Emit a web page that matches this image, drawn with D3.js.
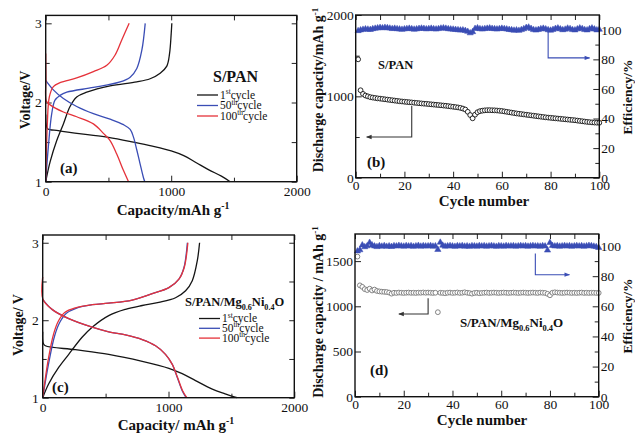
<!DOCTYPE html>
<html>
<head>
<meta charset="utf-8">
<script src="https://cdn.jsdelivr.net/npm/d3@7"></script>
<style>
  body { margin: 0; background: #fff; }
  svg text { font-family: "Liberation Serif", "Times New Roman", Times, serif; }
</style>
</head>
<body>
<div id="chart"></div>
<script>
// ---- panel (a): S/PAN voltage profiles [capacity, voltage]
const a1Dis = [[0,1.85],[4,1.72],[15,1.67],[100,1.645],[300,1.6],[500,1.56],[700,1.5],[850,1.45],[1000,1.39],[1100,1.33],[1200,1.24],[1300,1.15],[1400,1.07],[1470,1.0]];
const a1Chg = [[0,1.0],[35,1.25],[88,1.52],[141,1.73],[194,1.95],[247,2.07],[327,2.13],[513,2.21],[726,2.26],[832,2.3],[912,2.37],[965,2.46],[987,2.62],[1000,2.87],[1005,3.0]];
const a50Dis = [[0,2.28],[61,2.16],[141,2.05],[247,1.95],[380,1.86],[513,1.79],[620,1.72],[673,1.66],[700,1.56],[726,1.4],[753,1.22],[779,1.05],[790,1.0]];
const a50Chg = [[0,1.0],[21,1.44],[48,1.86],[74,2.03],[114,2.09],[168,2.13],[380,2.19],[593,2.26],[673,2.32],[726,2.43],[766,2.66],[793,3.0]];
const a100Dis = [[0,2.62],[2,2.3],[5,2.02],[35,1.97],[141,1.88],[247,1.82],[380,1.73],[460,1.61],[513,1.52],[566,1.35],[620,1.14],[660,1.0]];
const a100Chg = [[0,1.0],[13,1.73],[29,2.07],[61,2.2],[114,2.25],[247,2.31],[380,2.39],[487,2.47],[553,2.6],[606,2.79],[665,3.0]];

// ---- panel (c): S/PAN/Mg0.6Ni0.4O voltage profiles
const c1Dis = [[0,1.85],[5,1.7],[21,1.67],[260,1.62],[525,1.56],[791,1.47],[1003,1.38],[1109,1.31],[1215,1.22],[1348,1.11],[1450,1.05],[1545,1.0]];
const c1Chg = [[0,1.0],[48,1.18],[127,1.39],[207,1.56],[313,1.78],[393,1.91],[525,2.06],[658,2.14],[791,2.19],[923,2.23],[1056,2.29],[1136,2.38],[1189,2.51],[1229,2.77],[1247,3.0]];
const c50Dis = [[0,2.27],[74,2.14],[207,2.02],[393,1.91],[525,1.85],[658,1.81],[791,1.75],[897,1.67],[976,1.56],[1030,1.43],[1070,1.26],[1109,1.09],[1140,1.0]];
const c50Chg = [[0,1.0],[48,1.45],[95,1.8],[135,1.97],[188,2.09],[260,2.15],[393,2.2],[525,2.22],[711,2.26],[865,2.34],[1003,2.42],[1083,2.53],[1123,2.68],[1150,3.0]];
const c100Dis = [[0,2.56],[2,2.27],[74,2.14],[207,2.02],[393,1.91],[525,1.85],[658,1.81],[791,1.75],[897,1.67],[976,1.56],[1030,1.43],[1072,1.26],[1112,1.09],[1146,1.0]];
const c100Chg = [[0,1.0],[45,1.5],[88,1.83],[125,1.99],[175,2.1],[260,2.16],[393,2.2],[525,2.22],[711,2.26],[865,2.34],[1003,2.42],[1083,2.53],[1125,2.68],[1154,3.0]];

// ---- panel (b): S/PAN cycling (cycles 1..100)
const bCap = [1455,1075,1030,1010,1000,990,985,980,975,972,
  968,964,960,956,952,948,944,940,937,934,
  931,928,925,922,919,916,913,910,908,905,
  902,899,896,893,890,887,884,880,876,872,
  868,864,858,850,838,810,770,730,775,805,
  818,824,828,830,830,829,828,826,823,820,
  815,810,805,800,795,790,786,782,778,774,
  770,766,762,758,754,750,746,742,739,736,
  733,730,727,724,721,718,715,712,709,706,
  702,698,694,690,686,683,680,678,676,675];
const bEff = [99.3,99.8,100.2,100.5,100.3,100.1,100.6,100.9,101.2,101.4,
  101.2,101.5,101.3,101.0,100.7,100.9,100.6,100.4,100.2,100.5,
  100.7,100.9,100.6,100.3,100.5,100.8,101.0,100.8,100.5,100.7,
  100.9,100.6,100.4,100.7,101.0,101.2,100.9,100.6,100.4,100.3,
  100.1,99.9,99.7,99.8,99.4,98.8,97.8,98.6,100.8,101.2,
  100.6,100.4,100.7,100.9,101.1,100.8,100.6,100.4,100.7,100.9,
  100.7,100.4,100.1,99.9,99.6,99.8,99.5,100.0,100.6,101.4,
  101.7,100.8,100.0,99.7,100.1,100.6,100.9,100.5,99.9,99.6,
  100.1,100.8,101.1,100.5,99.9,100.3,101.0,100.7,100.0,99.8,
  100.5,101.1,100.7,100.0,99.8,100.6,101.1,100.4,99.8,100.2];

// ---- panel (d): S/PAN/Mg0.6Ni0.4O cycling
const dCap = [1550,1232,1215,1190,1180,1195,1175,1185,1170,1165,
  1162,1160,1158,1152,1140,1150,1148,1152,1150,1148,
  1150,1152,1149,1150,1148,1151,1150,1153,1150,1152,
  1150,1148,1150,935,1150,1148,1145,1150,1152,1148,
  1150,1153,1148,1150,1155,1150,1146,1140,1148,1150,
  1145,1148,1150,1152,1148,1150,1152,1150,1148,1150,
  1152,1150,1148,1150,1152,1150,1148,1150,1152,1150,
  1148,1150,1152,1150,1148,1152,1150,1148,1138,1122,
  1150,1155,1152,1150,1148,1150,1152,1150,1148,1150,
  1148,1150,1152,1148,1150,1148,1150,1150,1148,1148];
const dEff = [96.6,97.4,100.6,99.4,100.0,102.3,100.6,99.9,99.5,100.1,
  99.8,100.2,99.7,100.0,99.6,100.1,99.9,100.3,100.0,99.8,
  100.2,99.9,100.1,99.7,100.0,100.3,99.8,100.1,99.9,100.0,
  100.2,99.8,100.0,97.6,102.4,100.4,99.8,100.0,100.2,99.9,
  99.7,100.1,99.9,100.2,99.8,100.0,99.7,100.1,100.0,99.8,
  100.2,99.9,100.1,99.8,100.0,100.2,99.9,99.7,100.1,100.0,
  99.8,100.2,99.9,100.0,100.1,99.8,100.0,100.2,99.9,100.1,
  99.8,100.0,100.2,99.9,100.0,99.8,100.1,99.9,97.2,102.2,
  100.3,99.9,100.1,99.8,100.0,100.2,99.9,100.1,99.8,100.0,
  100.2,99.9,100.1,99.8,100.0,100.3,100.1,99.8,99.5,98.9];

// tick values
const capTicks = [0, 1000, 2000], capMinor = [500, 1500];
const voltTicks = [1, 2, 3], voltMinor = [1.5, 2.5];
const cycleTicks = [0, 20, 40, 60, 80, 100], cycleMinor = [10, 30, 50, 70, 90];
const effTicks = [0, 20, 40, 60, 80, 100], effMinor = [10, 30, 50, 70, 90];

// arrows [x, y] in data units
const bEffArrow = [[79, 98.5], [79, 81], [96, 81]];
const bCapArrow = [[23, 880], [23, 500], [4.5, 500]];
const dEffArrow = [[74, 95], [74, 81], [88, 81]];
const dCapArrow = [[30, 1090], [30, 915], [18, 915]];

const cycles = d3.range(1, 101);
const legendNames = [["1", "st"], ["50", "th"], ["100", "th"]];

const FONT = "Liberation Serif, Times New Roman, serif";
const BLACK = "#151515", BLUE = "#3a4db5", RED = "#e5323a";

const svg = d3.select("#chart").append("svg")
  .attr("width", 635).attr("height", 435);

const defs = svg.append("defs");
[["arrBlue", BLUE], ["arrDark", "#333"]].forEach(([id, c]) => {
  defs.append("marker").attr("id", id)
    .attr("viewBox", "0 0 10 10").attr("refX", 9).attr("refY", 5)
    .attr("markerWidth", 6).attr("markerHeight", 5).attr("orient", "auto")
    .append("path").attr("d", "M0,1L10,5L0,9z").attr("fill", c);
});

function ticks(g, scale, orient, pos, values, size, labels, pad) {
  const make = { bottom: d3.axisBottom, top: d3.axisTop, left: d3.axisLeft, right: d3.axisRight }[orient];
  const ax = make(scale).tickValues(values).tickSizeInner(-size).tickSizeOuter(0).tickPadding(pad || 3)
    .tickFormat(labels ? d3.format("") : "");
  const tr = (orient === "bottom" || orient === "top") ? `translate(0,${pos})` : `translate(${pos},0)`;
  const gg = g.append("g").attr("transform", tr).call(ax)
    .attr("font-family", FONT).attr("font-size", 13.5);
  gg.select(".domain").remove();
  gg.selectAll("line").attr("stroke", "#222").attr("stroke-width", 1);
  gg.selectAll("text").attr("fill", "#111");
}

function frame(x, y) {
  const [x0, x1] = x.range(), [y0, y1] = y.range();
  svg.append("rect").attr("x", x0).attr("y", y1)
    .attr("width", x1 - x0).attr("height", y0 - y1)
    .attr("fill", "none").attr("stroke", "#111").attr("stroke-width", 1.4);
}

function supText(g, x, y, parts, opts) {
  // parts: [text, shift] ; shift -1 super, +1 sub, 0 normal
  const t = g.append("text").attr("x", x).attr("y", y)
    .attr("font-size", opts.size).attr("font-weight", opts.bold ? "bold" : "normal")
    .attr("text-anchor", opts.anchor || "start").attr("fill", "#111");
  if (opts.rotate) t.attr("transform", `rotate(-90,${x},${y})`);
  let cur = 0;
  parts.forEach(([s, shift]) => {
    const off = shift * opts.size * (shift < 0 ? 0.38 : 0.28);
    t.append("tspan").attr("dy", off - cur)
      .attr("font-size", shift ? opts.size * 0.65 : opts.size).text(s);
    cur = off;
  });
  return t;
}

function voltagePanel(x, y, curves, legend) {
  const g = svg.append("g");
  const [x0, x1] = x.range(), [y0, y1] = y.range();
  ticks(g, x, "bottom", y0, capTicks, 6, true, 5);
  ticks(g, x, "bottom", y0, capMinor, 4, false);
  ticks(g, x, "top", y1, capTicks.concat(capMinor), 5, false);
  ticks(g, y, "left", x0, voltTicks, 6, true, 4);
  ticks(g, y, "left", x0, voltMinor, 4, false);
  ticks(g, y, "right", x1, voltTicks.concat(voltMinor), 5, false);

  const line = d3.line().x(d => x(d[0])).y(d => y(d[1]))
    .curve(d3.curveCatmullRom.alpha(0.5));
  curves.forEach(c => {
    g.append("path").attr("d", line(c.data)).attr("fill", "none")
      .attr("stroke", c.color).attr("stroke-width", 1.3);
  });
  frame(x, y);

  // legend
  const lg = svg.append("g");
  [BLACK, BLUE, RED].forEach((col, i) => {
    const ly = legend.y + i * legend.dy;
    lg.append("line").attr("x1", legend.x).attr("x2", legend.x + 21)
      .attr("y1", ly).attr("y2", ly).attr("stroke", col).attr("stroke-width", 1.3);
    supText(lg, legend.x + 23, ly + 3.5,
      [[legendNames[i][0], 0], [legendNames[i][1], -1], ["cycle", 0]], { size: 11.5 });
  });
}

function cyclePanel(x, y, e, cap, eff, circleStroke, arrows) {
  const g = svg.append("g");
  const [x0, x1] = x.range(), [y0, y1] = y.range();
  ticks(g, x, "bottom", y0, cycleTicks, 6, true, 3);
  ticks(g, x, "bottom", y0, cycleMinor, 4, false);
  ticks(g, x, "top", y1, cycleTicks.concat(cycleMinor), 5, false);
  ticks(g, y, "left", x0, y.tickVals, 6, true, 2);
  ticks(g, y, "left", x0, y.minorVals, 4, false);
  ticks(g, e, "right", x1, effTicks, 6, true, 2);
  ticks(g, e, "right", x1, effMinor, 4, false);

  g.append("g").selectAll("path").data(eff).join("path")
    .attr("transform", (d, i) => `translate(${x(cycles[i])},${e(d)})`)
    .attr("d", d3.symbol(d3.symbolTriangle, 17))
    .attr("fill", BLUE).attr("stroke", BLUE).attr("stroke-width", 0.5);

  g.append("g").selectAll("circle").data(cap).join("circle")
    .attr("cx", (d, i) => x(cycles[i])).attr("cy", d => y(d)).attr("r", 2.4)
    .attr("fill", "#fff").attr("stroke", circleStroke).attr("stroke-width", 0.9);

  arrows.forEach(a => {
    const sc = a.scale;
    g.append("path")
      .attr("d", d3.line().x(d => x(d[0])).y(d => sc(d[1]))(a.pts))
      .attr("fill", "none").attr("stroke", a.color).attr("stroke-width", 1.1)
      .attr("marker-end", `url(#${a.marker})`);
  });
  frame(x, y);
}

// ---------- scales ----------
const xA = d3.scaleLinear().domain([0, 2000]).range([45.7, 296.7]);
const yA = d3.scaleLinear().domain([1, 3.1]).range([181.7, 15.4]);
const xC = d3.scaleLinear().domain([0, 2000]).range([42.7, 294.3]);
const yC = d3.scaleLinear().domain([1, 3.1]).range([397.7, 235]);

const xB = d3.scaleLinear().domain([0, 100]).range([355.7, 599.3]);
const yB = d3.scaleLinear().domain([0, 2000]).range([177.7, 15]);
yB.tickVals = [0, 1000, 2000]; yB.minorVals = [500, 1500];
const eB = d3.scaleLinear().domain([0, 110]).range([177.7, 15]);

const xD = d3.scaleLinear().domain([0, 100]).range([355, 598.7]);
const yD = d3.scaleLinear().domain([0, 1800]).range([396.7, 234]);
yD.tickVals = [0, 500, 1000, 1500]; yD.minorVals = [];
const eD = d3.scaleLinear().domain([0, 108]).range([396.7, 234]);

// ---------- panels ----------
voltagePanel(xA, yA, [
  { data: a1Dis, color: BLACK }, { data: a1Chg, color: BLACK },
  { data: a50Dis, color: BLUE }, { data: a50Chg, color: BLUE },
  { data: a100Dis, color: RED }, { data: a100Chg, color: RED }
], { x: 197, y: 95, dy: 10.5 });

voltagePanel(xC, yC, [
  { data: c1Dis, color: BLACK }, { data: c1Chg, color: BLACK },
  { data: c50Dis, color: BLUE }, { data: c50Chg, color: BLUE },
  { data: c100Dis, color: RED }, { data: c100Chg, color: RED }
], { x: 199, y: 318.5, dy: 9.8 });

cyclePanel(xB, yB, eB, bCap, bEff, "#111", [
  { pts: bEffArrow, scale: eB, color: BLUE, marker: "arrBlue" },
  { pts: bCapArrow, scale: yB, color: "#333", marker: "arrDark" }
]);
cyclePanel(xD, yD, eD, dCap, dEff, "#777", [
  { pts: dEffArrow, scale: eD, color: BLUE, marker: "arrBlue" },
  { pts: dCapArrow, scale: yD, color: "#333", marker: "arrDark" }
]);

// ---------- texts ----------
const T = svg.append("g");
const mgParts = [["S/PAN/Mg", 0], ["0.6", 1], ["Ni", 0], ["0.4", 1], ["O", 0]];

supText(T, 213, 82, [["S/PAN", 0]], { size: 16, bold: true });
supText(T, 185, 306, mgParts, { size: 12.5, bold: true });
supText(T, 378, 69, [["S/PAN", 0]], { size: 12.5, bold: true });
supText(T, 460, 327, mgParts, { size: 13, bold: true });

supText(T, 60, 173, [["(a)", 0]], { size: 15, bold: true });
supText(T, 367, 167, [["(b)", 0]], { size: 15, bold: true });
supText(T, 52, 392, [["(c)", 0]], { size: 15, bold: true });
supText(T, 370, 375, [["(d)", 0]], { size: 15, bold: true });

// axis titles
supText(T, 173, 215, [["Capacity/mAh g", 0], ["-1", -1]], { size: 15, bold: true, anchor: "middle" });
supText(T, 176, 430, [["Capacity/ mAh g", 0], ["-1", -1]], { size: 15, bold: true, anchor: "middle" });
supText(T, 484, 206, [["Cycle number", 0]], { size: 15, bold: true, anchor: "middle" });
supText(T, 482, 425, [["Cycle number", 0]], { size: 15, bold: true, anchor: "middle" });

supText(T, 30, 100, [["Voltage/V", 0]], { size: 14, bold: true, anchor: "middle", rotate: true });
supText(T, 23, 325, [["Voltage/ V", 0]], { size: 14, bold: true, anchor: "middle", rotate: true });
supText(T, 323, 90, [["Discharge capacity/mAh g", 0], ["-1", -1]], { size: 14, bold: true, anchor: "middle", rotate: true });
supText(T, 323, 312, [["Discharge capacity / mAh g", 0], ["-1", -1]], { size: 14, bold: true, anchor: "middle", rotate: true });
supText(T, 632, 97, [["Efficiency/%", 0]], { size: 13.5, bold: true, anchor: "middle", rotate: true });
supText(T, 632, 316, [["Efficiency/%", 0]], { size: 13.5, bold: true, anchor: "middle", rotate: true });
</script>
</body>
</html>
